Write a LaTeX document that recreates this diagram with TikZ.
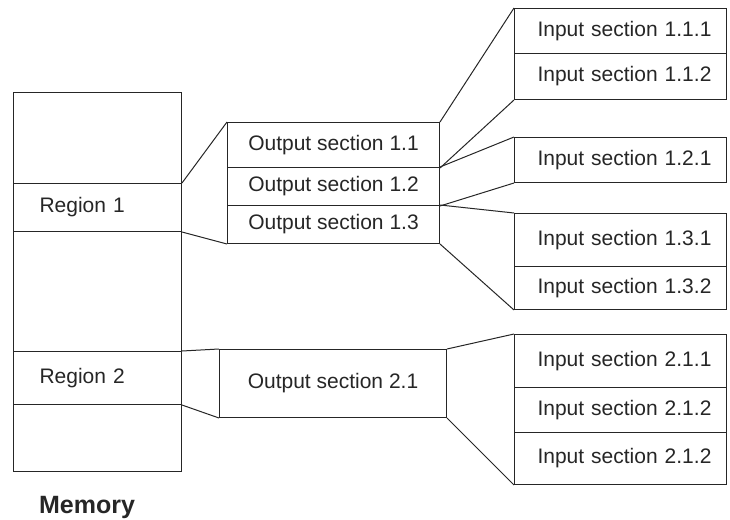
\documentclass[tikz,border=0pt]{standalone}
\usepackage{fontspec}
\setmainfont{Liberation Sans}
\usetikzlibrary{positioning}

\begin{document}
\begin{tikzpicture}[x=1pt, y=-1pt, line width=1pt, color=black!85,
		font=\fontsize{21}{25}\selectfont,
		cell/.style={draw, anchor=north west, inner ysep=0pt},
		memcell/.style={cell, text width=116pt, inner xsep=26pt, align=left},
		outcell/.style={cell, inner xsep=0pt, minimum width=#1},
		incell/.style={cell, text width=166pt, inner xsep=23pt, align=left}]
	
	\useasboundingbox (0,0) rectangle (730,519);
	
	% --- Memory column (x = 13..181) ---
	% name / top / height / text
	\foreach \nm/\y/\h/\txt in {memA/92/91/{}, reg1/183/48/{Region 1},
		memB/231/120/{}, reg2/351/53/{Region 2}, memC/404/67/{}} {
		\node[memcell, minimum height=\h pt] (\nm) at (13,\y) {\txt};
	}
	\node[font=\fontsize{25}{30}\selectfont\bfseries, anchor=base] (memlbl) at (87,513) {Memory};
	
	% --- Output sections ---
	\node[outcell=212pt, minimum height=45pt] (out11) at (227,122) {Output section 1.1};
	\node[outcell=212pt, minimum height=38pt] (out12) at (227,167) {Output section 1.2};
	\node[outcell=212pt, minimum height=38pt] (out13) at (227,205) {Output section 1.3};
	\node[outcell=227pt, minimum height=68pt] (out21) at (219,349) {Output section 2.1};
	
	% --- Input sections (x = 514..726) ---
	\foreach \nm/\y/\h/\txt in {111/8/45/{Input section 1.1.1}, 112/53/46/{Input section 1.1.2},
		121/137/45/{Input section 1.2.1},
		131/213/53/{Input section 1.3.1}, 132/266/43/{Input section 1.3.2},
		211/334/53/{Input section 2.1.1}, 212/387/45/{Input section 2.1.2},
		213/432/52/{Input section 2.1.2}} {
		\node[incell, minimum height=\h pt] (in\nm) at (514,\y) {\mbox{\txt}};
	}
	
	% Region 1 -> output sections
	\draw (reg1.north east) -- (out11.north west);
	\draw (reg1.south east) -- (out13.south west);
	
	% Output sections -> input sections
	\draw (out11.north east) -- (in111.north west);
	\draw (out11.south east) -- (in112.south west);
	\draw (out12.north east) -- (in121.north west);
	\draw (out12.south east) -- (in121.south west);
	\draw (out13.north east) -- (in131.north west);
	\draw (out13.south east) -- (in132.south west);
	
	% Region 2 -> output section 2.1 -> input sections
	\draw (reg2.north east) -- (out21.north west);
	\draw (reg2.south east) -- (out21.south west);
	\draw (out21.north east) -- (in211.north west);
	\draw (out21.south east) -- (in213.south west);
	
\end{tikzpicture}
\end{document}
